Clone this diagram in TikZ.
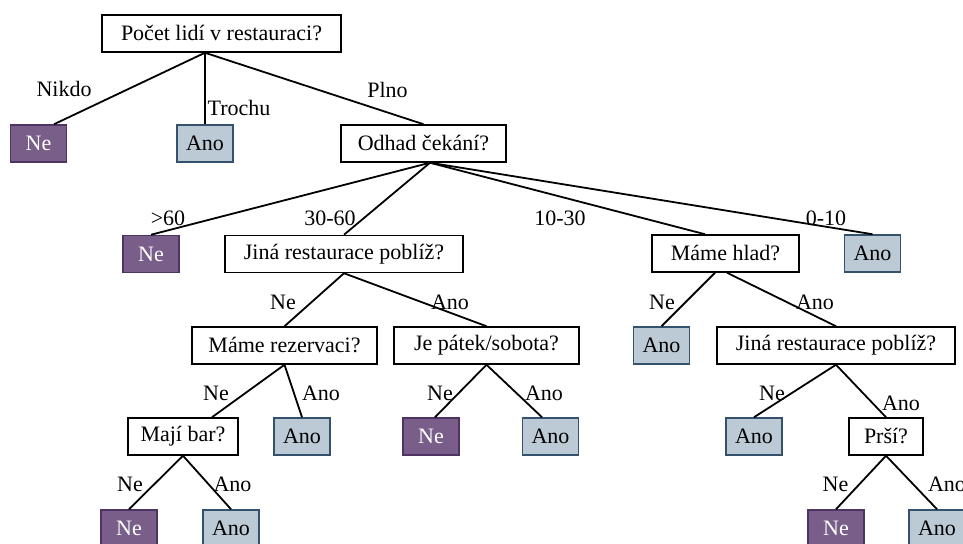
\documentclass[tikz,border=0pt]{standalone}
\usepackage{fontspec}
\setmainfont{Liberation Serif}
\usepackage{xcolor}
\definecolor{nefill}{RGB}{121,94,137}
\definecolor{nedraw}{RGB}{78,52,98}
\definecolor{anofill}{RGB}{188,202,214}
\definecolor{anodraw}{RGB}{52,82,110}

\begin{document}
\begin{tikzpicture}[
font=\fontsize{11}{13}\selectfont,
x=0.5pt,y=-0.5pt,
ask/.style={draw, line width=0.75pt, fill=white, minimum height=18.5pt, inner sep=0pt},
ne/.style={draw=nedraw, line width=0.75pt, fill=nefill, text=white, minimum width=28pt, minimum height=18.5pt, inner sep=0pt},
ano/.style={draw=anodraw, line width=0.75pt, fill=anofill, minimum width=28pt, minimum height=18.5pt, inner sep=0pt},
lbl/.style={inner sep=0pt},
edge/.style={line width=0.9pt}
]
\useasboundingbox (0,0) rectangle (963,544);
% questions
\node[ask, minimum width=119.5pt] (pocet) at (221.5,33.5) {Počet lidí v restauraci?};
\node[ask, minimum width=82.5pt] (odhad) at (423.5,143.5) {Odhad čekání?};
\node[ask, minimum width=119pt] (jina1) at (344,254) {Jiná restaurace poblíž?};
\node[ask, minimum width=73.5pt] (hlad) at (725.5,253.5) {Máme hlad?};
\node[ask, minimum width=92.5pt] (rez) at (284.5,345.5) {Máme rezervaci?};
\node[ask, minimum width=92.5pt] (patek) at (486.5,345.5) {Je pátek/sobota?};
\node[ask, minimum width=119pt] (jina2) at (836,345.5) {Jiná restaurace poblíž?};
\node[ask, minimum width=55pt] (bar) at (183,436.5) {Mají bar?};
\node[ask, minimum width=37pt] (prsi) at (886,436.5) {Prší?};
% answers
\foreach \n/\x/\y/\s/\t in {ne1/38.5/143.5/ne/Ne, ano1/205/143.5/ano/Ano, ne2/151/254/ne/Ne, ano2/872.5/253.5/ano/Ano,
  ano3/661.5/345.5/ano/Ano, ano4/302/436.5/ano/Ano, ne3/431/436.5/ne/Ne, ano5/550.5/436.5/ano/Ano, ano6/754/436.5/ano/Ano,
  ne4/129/528.5/ne/Ne, ano7/231/528.5/ano/Ano, ne5/836/528.5/ne/Ne, ano8/937/528.5/ano/Ano}
  {\node[\s] (\n) at (\x,\y) {\t};}
% edges
\draw[edge] ([xshift=-8.25pt]pocet.south) -- ([xshift=7.75pt]ne1.north);
\draw[edge] ([xshift=-8.25pt]pocet.south) -- (ano1.north);
\draw[edge] ([xshift=-8.25pt]pocet.south) -- (odhad.north);
\draw[edge] ([xshift=3.25pt]odhad.south) -- (ne2.north);
\draw[edge] ([xshift=3.25pt]odhad.south) -- (jina1.north);
\draw[edge] ([xshift=3.25pt]odhad.south) -- ([xshift=-10.25pt]hlad.north);
\draw[edge] ([xshift=3.25pt]odhad.south) -- (ano2.north);
\draw[edge] ([xshift=-5.25pt]hlad.south) -- (ano3.north);
\draw[edge] ([xshift=0.75pt]hlad.south) -- (jina2.north);
\draw[edge] (rez.south) -- ([xshift=14.5pt]bar.north);
\draw[edge] (patek.south) -- ([xshift=2pt]ne3.north);
\draw[edge] (patek.south) -- ([xshift=-4.25pt]ano5.north);
\foreach \a/\b in {jina1/rez, jina1/patek, rez/ano4, jina2/ano6, jina2/prsi, bar/ne4, bar/ano7, prsi/ne5, prsi/ano8}
  \draw[edge] (\a.south) -- (\b.north);
% labels
\foreach \t/\x/\y [count=\i] in {Nikdo/64/89, Trochu/239/108, Plno/387.5/90, >60/168/218, 30-60/330/218,
  10-30/560/218, 0-10/826/218, Ne/283/302, Ano/450/302, Ne/662/302, Ano/815/302, Ne/216/393, Ano/321/393,
  Ne/440/393, Ano/544/393, Ne/772/393, Ano/901/403, Ne/130/484, Ano/232.5/484, Ne/835.5/484, Ano/947/484}
  {\node[lbl] (l\i) at (\x,\y) {\t};}
\end{tikzpicture}
\end{document}
